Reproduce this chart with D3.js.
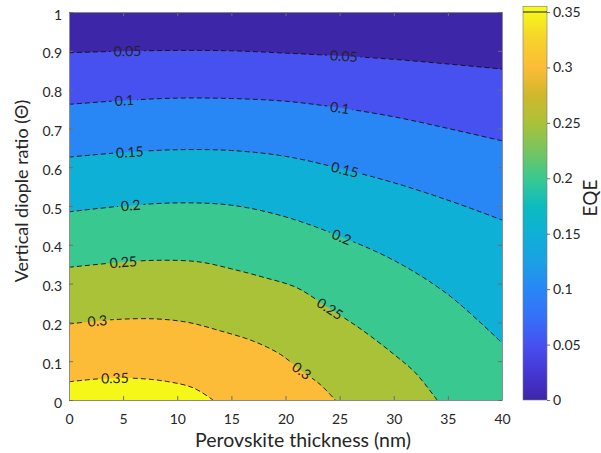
<!DOCTYPE html>
<html>
<head>
<meta charset="utf-8">
<script src="https://cdn.jsdelivr.net/npm/d3@7"></script>
<style>
  html, body { margin: 0; padding: 0; background: #ffffff; }
  svg { display: block; font-family: Lato, "Noto Sans", sans-serif; }
</style>
</head>
<body>
<svg id="chart" width="601" height="453"></svg>
<script>
// Axis ticks
const thicknessTicks = [0, 5, 10, 15, 20, 25, 30, 35, 40];
const ratioTicks = [0, 0.1, 0.2, 0.3, 0.4, 0.5, 0.6, 0.7, 0.8, 0.9, 1];
const eqeTicks = [0, 0.05, 0.1, 0.15, 0.2, 0.25, 0.3, 0.35];
const eqeMax = 0.355;

// Contour levels of EQE and the iso-lines, as [thickness (nm), vertical dipole ratio]
const levels = [0.05, 0.1, 0.15, 0.2, 0.25, 0.3, 0.35];
const contour005 = [[0,0.895],[5,0.899],[10,0.901],[15,0.9],[20,0.894],[25,0.887],[30,0.878],[35,0.866],[40,0.853]];
const contour010 = [[0,0.762],[5,0.772],[10,0.778],[15,0.777],[20,0.77],[25,0.753],[30,0.73],[35,0.70],[40,0.668]];
const contour015 = [[0,0.626],[5,0.638],[10,0.645],[15,0.643],[20,0.628],[25,0.597],[30,0.56],[35,0.515],[40,0.464]];
const contour020 = [[0,0.485],[5,0.5],[10,0.508],[15,0.502],[20,0.472],[25,0.422],[30,0.36],[35,0.272],[40,0.147]];
const contour025 = [[0,0.342],[4,0.353],[8,0.36],[12,0.356],[15,0.338],[18,0.316],[21,0.29],[24,0.237],[27,0.182],[30,0.118],[32,0.07],[34,0]];
const contour030 = [[0,0.196],[4,0.207],[8,0.209],[11,0.2],[14,0.178],[17,0.152],[19.5,0.118],[21.5,0.075],[23.2,0.04],[24.6,0]];
const contour035 = [[0,0.047],[3,0.055],[6,0.056],[9,0.048],[11.5,0.031],[13.3,0]];
const contours = [contour005, contour010, contour015, contour020, contour025, contour030, contour035];

// Thickness at which each contour carries its inline value label
const labelAt = [[5.4, 25.4], [5.1, 25.0], [5.6, 25.5], [5.7, 25.2], [5.0, 24.1], [2.6, 21.5], [4.25]];

// Parula colour map (fraction of range -> colour)
const parulaPos = [0, 0.07, 0.141, 0.21, 0.282, 0.35, 0.423, 0.49, 0.563, 0.63, 0.704, 0.775, 0.845, 0.92, 0.986, 1];
const parulaHex = ["#3e26a8", "#4537d5", "#4651ef", "#3570f8", "#2887f5", "#1ba0e4", "#0fb0d6", "#0cbbc0",
                   "#3ac891", "#74c561", "#aac238", "#d0b82c", "#fcbc37", "#f5d42a", "#f5f719", "#f9fb15"];

const svg = d3.select("#chart");
const plot = { left: 69, right: 502, top: 12, bottom: 400 };
const x = d3.scaleLinear([0, 40], [plot.left, plot.right]);
const y = d3.scaleLinear([0, 1], [plot.bottom, plot.top]);
const color = d3.scaleLinear(parulaPos.map(p => p * eqeMax), parulaHex).clamp(true);

const defs = svg.append("defs");
defs.append("clipPath").attr("id", "plotClip")
  .append("rect").attr("x", plot.left).attr("y", plot.top)
  .attr("width", plot.right - plot.left).attr("height", plot.bottom - plot.top);

const line = d3.line().x(d => x(d[0])).y(d => y(d[1])).curve(d3.curveCatmullRom.alpha(0.5));

// Filled bands: lowest band as background, each higher band painted over the region below its contour
const fills = svg.append("g").attr("clip-path", "url(#plotClip)");
fills.append("rect")
  .attr("x", plot.left).attr("y", plot.top)
  .attr("width", plot.right - plot.left).attr("height", plot.bottom - plot.top)
  .attr("fill", color(0));

contours.forEach((pts, i) => {
  const last = pts[pts.length - 1];
  let d = line(pts);
  if (last[1] > 0) d += `L${x(last[0])},${y(0)}`;
  d += `L${x(0)},${y(0)}Z`;
  fills.append("path").attr("d", d).attr("fill", color(levels[i])).attr("stroke", "none");
});

// Contour lines with gaps where labels sit
const mask = defs.append("mask").attr("id", "labelMask").attr("maskUnits", "userSpaceOnUse")
  .attr("x", 0).attr("y", 0).attr("width", 601).attr("height", 453);
mask.append("rect").attr("x", 0).attr("y", 0).attr("width", 601).attr("height", 453).attr("fill", "#fff");

const linesG = svg.append("g").attr("clip-path", "url(#plotClip)");
const lines = linesG.append("g").attr("mask", "url(#labelMask)");
const labelsG = svg.append("g");

const fmt = v => String(v);

contours.forEach((pts, i) => {
  const path = lines.append("path")
    .attr("d", line(pts))
    .attr("fill", "none")
    .attr("stroke", "#111111")
    .attr("stroke-width", 0.9)
    .attr("stroke-dasharray", "5,3");
  const node = path.node();
  const total = node.getTotalLength();
  labelAt[i].forEach(lx => {
    const target = x(lx);
    let best = 0, bestDist = Infinity;
    for (let l = 0; l <= total; l += 0.5) {
      const p = node.getPointAtLength(l);
      const dd = Math.abs(p.x - target);
      if (dd < bestDist) { bestDist = dd; best = l; }
    }
    const p = node.getPointAtLength(best);
    const p0 = node.getPointAtLength(Math.max(0, best - 4));
    const p1 = node.getPointAtLength(Math.min(total, best + 4));
    let ang = Math.atan2(p1.y - p0.y, p1.x - p0.x) * 180 / Math.PI;
    if (ang > 90) ang -= 180;
    if (ang < -90) ang += 180;
    const t = labelsG.append("text")
      .attr("transform", `translate(${p.x},${p.y}) rotate(${ang})`)
      .attr("text-anchor", "middle")
      .attr("dy", "0.36em")
      .attr("font-size", 14)
      .attr("fill", "#222222")
      .text(fmt(levels[i]));
    const w = t.node().getComputedTextLength();
    mask.append("rect")
      .attr("x", -w / 2 - 3).attr("y", -7)
      .attr("width", w + 6).attr("height", 14)
      .attr("transform", `translate(${p.x},${p.y}) rotate(${ang})`)
      .attr("fill", "#000");
  });
});

// Axes (inward ticks, boxed)
const axisColor = "#8c8c8c";
function styleAxis(g) {
  g.select(".domain").attr("stroke", axisColor).attr("stroke-width", 1);
  g.selectAll(".tick line").attr("stroke", "#6e6e6e").attr("stroke-width", 1);
  g.selectAll(".tick text").attr("fill", "#262626").attr("font-size", 14);
  g.attr("font-family", null);
}

svg.append("g").attr("transform", `translate(0,${plot.bottom})`)
  .call(d3.axisBottom(x).tickValues(thicknessTicks).tickSizeInner(-4).tickSizeOuter(0).tickPadding(14))
  .call(styleAxis);
svg.append("g").attr("transform", `translate(0,${plot.top})`)
  .call(d3.axisTop(x).tickValues(thicknessTicks).tickSizeInner(-4).tickSizeOuter(0).tickFormat(""))
  .call(styleAxis);
svg.append("g").attr("transform", `translate(${plot.left},0)`)
  .call(d3.axisLeft(y).tickValues(ratioTicks).tickSizeInner(-4).tickSizeOuter(0).tickPadding(7).tickFormat(fmt))
  .call(styleAxis)
  .call(g => g.selectAll(".tick text").attr("dy", "0.5em"));
svg.append("g").attr("transform", `translate(${plot.right},0)`)
  .call(d3.axisRight(y).tickValues(ratioTicks).tickSizeInner(-4).tickSizeOuter(0).tickFormat(""))
  .call(styleAxis);

// Axis titles
svg.append("text")
  .attr("x", 303).attr("y", 447)
  .attr("text-anchor", "middle")
  .attr("font-size", 19.5).attr("fill", "#262626")
  .text("Perovskite thickness (nm)");
svg.append("text")
  .attr("transform", "translate(28,191) rotate(-90)")
  .attr("text-anchor", "middle")
  .attr("font-size", 18).attr("fill", "#262626")
  .text("Vertical diople ratio (Θ)");

// Colour bar
const cb = { left: 523, right: 547 };
const cScale = d3.scaleLinear([0, 0.35], [plot.bottom, plot.top]);
const grad = defs.append("linearGradient").attr("id", "parulaGrad")
  .attr("x1", 0).attr("y1", 1).attr("x2", 0).attr("y2", 0);
parulaPos.forEach((p, i) => grad.append("stop").attr("offset", p).attr("stop-color", parulaHex[i]));
svg.append("rect")
  .attr("x", cb.left).attr("y", cScale(eqeMax))
  .attr("width", cb.right - cb.left).attr("height", cScale(0) - cScale(eqeMax))
  .attr("fill", "url(#parulaGrad)")
  .attr("stroke", "#7a7a7a").attr("stroke-width", 0.6);
svg.append("line")
  .attr("x1", cb.left).attr("x2", cb.right)
  .attr("y1", cScale(0.35)).attr("y2", cScale(0.35))
  .attr("stroke", "#1a1a1a").attr("stroke-width", 1);
svg.append("g").attr("transform", `translate(${cb.right},0)`)
  .call(d3.axisRight(cScale).tickValues(eqeTicks).tickSizeInner(3).tickSizeOuter(0).tickPadding(3).tickFormat(fmt))
  .call(styleAxis)
  .call(g => g.select(".domain").remove());
svg.append("text")
  .attr("transform", "translate(597,198) rotate(-90)")
  .attr("text-anchor", "middle")
  .attr("font-size", 19).attr("fill", "#262626")
  .text("EQE");
</script>
</body>
</html>
